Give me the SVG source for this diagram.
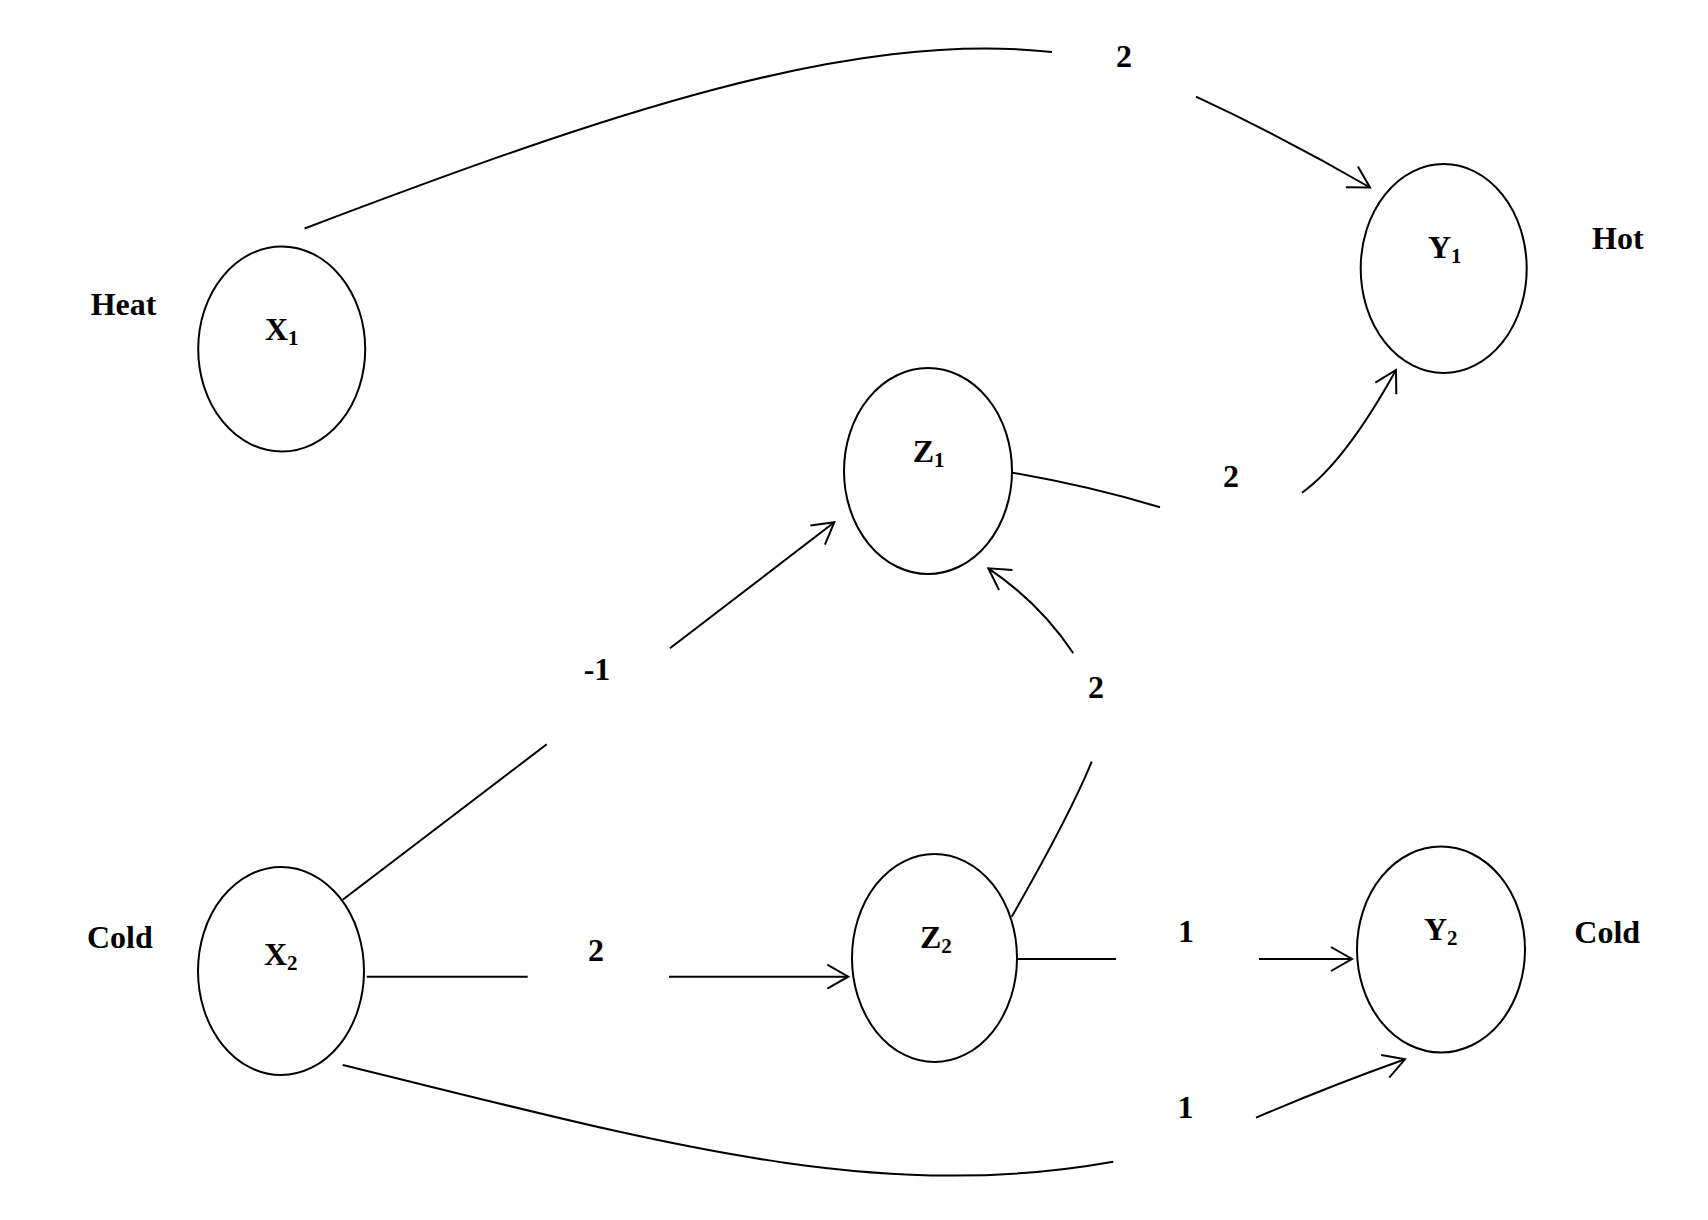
<svg xmlns="http://www.w3.org/2000/svg" width="1708" height="1220" viewBox="0 0 1708 1220">
<style>
  .node ellipse { fill: #fff; stroke: #000; stroke-width: 2; }
  .lbl { font-family: "Liberation Serif", "Times New Roman", serif; font-weight: bold; font-size: 32px; fill: #000; }
  .num { text-anchor: middle; }
  .sub { font-size: 21px; }
  .conn path, .conn line { fill: none; stroke: #000; stroke-width: 2; }
</style>
<defs>
  <marker id="arr" markerUnits="userSpaceOnUse" markerWidth="40" markerHeight="40" viewBox="-30 -20 40 40" refX="0" refY="0" orient="auto">
    <path d="M -21 -12 L 0 0 L -21 12" fill="none" stroke="#000" stroke-width="2"/>
  </marker>
</defs>
<rect width="1708" height="1220" fill="#fff"/>

<g id="connectors" class="conn">
  <!-- X1 -> Y1 -->
  <path d="M 304.6 228.5 C 604.6 114.5, 850 30, 1052 52"/>
  <path d="M 1196 96.7 Q 1285 138 1370 187.5" marker-end="url(#arr)"/>
  <!-- Z1 -> Y1 -->
  <path d="M 1010 472.3 Q 1090 486 1160 507.3"/>
  <path d="M 1302 492.7 Q 1345 462 1396 370" marker-end="url(#arr)"/>
  <!-- X2 -> Z1 -->
  <line x1="342.7" y1="899.8" x2="546.7" y2="744.3"/>
  <line x1="670" y1="648.3" x2="834.3" y2="522.3" marker-end="url(#arr)"/>
  <!-- Z2 -> Z1 -->
  <path d="M 1011.7 916.7 Q 1070 815 1091.7 761.7"/>
  <path d="M 1073.3 653.3 Q 1040 603 988.3 568.3" marker-end="url(#arr)"/>
  <!-- X2 -> Z2 -->
  <line x1="366.7" y1="976.7" x2="527.7" y2="976.7"/>
  <line x1="669" y1="976.7" x2="848.3" y2="976.7" marker-end="url(#arr)"/>
  <!-- Z2 -> Y2 -->
  <line x1="1018" y1="959" x2="1116" y2="959"/>
  <line x1="1259" y1="959" x2="1352" y2="959" marker-end="url(#arr)"/>
  <!-- X2 -> Y2 -->
  <path d="M 342.7 1065 C 650 1140, 870 1205, 1113.3 1161.7"/>
  <path d="M 1256 1117.7 Q 1330 1086 1405 1059.3" marker-end="url(#arr)"/>
</g>

<g id="node-X1" class="node">
  <ellipse cx="281.7" cy="349" rx="83.5" ry="102.5"/>
  <text class="lbl" x="265" y="340">X<tspan class="sub" dy="5">1</tspan></text>
</g>
<g id="node-X2" class="node">
  <ellipse cx="281" cy="971" rx="83" ry="104"/>
  <text class="lbl" x="264" y="965">X<tspan class="sub" dy="5">2</tspan></text>
</g>
<g id="node-Z1" class="node">
  <ellipse cx="928" cy="471" rx="84" ry="103"/>
  <text class="lbl" x="912.7" y="461.7">Z<tspan class="sub" dy="5">1</tspan></text>
</g>
<g id="node-Z2" class="node">
  <ellipse cx="934.5" cy="958" rx="82.5" ry="104"/>
  <text class="lbl" x="920" y="948">Z<tspan class="sub" dy="5">2</tspan></text>
</g>
<g id="node-Y1" class="node">
  <ellipse cx="1443.7" cy="268.5" rx="83" ry="104.5"/>
  <text class="lbl" x="1428" y="258">Y<tspan class="sub" dy="5">1</tspan></text>
</g>
<g id="node-Y2" class="node">
  <ellipse cx="1441" cy="949.5" rx="84" ry="103"/>
  <text class="lbl" x="1424" y="940">Y<tspan class="sub" dy="5">2</tspan></text>
</g>

<g id="labels">
  <text class="lbl" x="90.7" y="315">Heat</text>
  <text class="lbl" x="1592" y="249">Hot</text>
  <text class="lbl" x="87" y="948">Cold</text>
  <text class="lbl" x="1574.3" y="943">Cold</text>
  <text class="lbl num" x="1124" y="66.7">2</text>
  <text class="lbl num" x="1231" y="486.7">2</text>
  <text class="lbl num" x="597" y="680">-1</text>
  <text class="lbl num" x="1096" y="698">2</text>
  <text class="lbl num" x="596" y="961">2</text>
  <text class="lbl num" x="1186" y="942">1</text>
  <text class="lbl num" x="1185.5" y="1118">1</text>
</g>
</svg>
